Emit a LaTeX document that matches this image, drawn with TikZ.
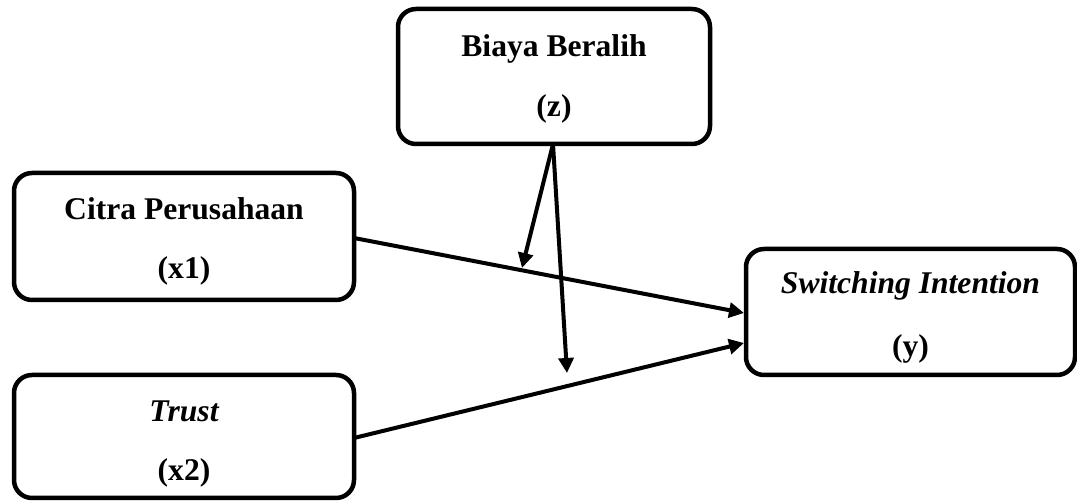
\documentclass[tikz,border=0pt]{standalone}
\usepackage{fontspec}
\setmainfont{Liberation Serif}
\usetikzlibrary{arrows.meta,calc}
\begin{document}
\begin{tikzpicture}[x=1pt,y=-1pt,
  boxnode/.style={draw=black, line width=4.5pt, rounded corners=18pt, inner sep=0pt, fill=white},
  lbl/.style={anchor=base, inner sep=0pt, font=\fontsize{31.6}{38}\selectfont\bfseries},
  ilbl/.style={lbl, font=\fontsize{31.6}{38}\selectfont\bfseries\itshape},
  arr/.style={line width=4pt, -{Triangle[length=15pt,width=15pt]}}]
\useasboundingbox (0,0) rectangle (1077,502);
% boxes
\node[boxnode, minimum width=312pt, minimum height=135pt] (z) at (554,76.5) {};
\node[boxnode, minimum width=340pt, minimum height=127pt] (x1) at (184,236.5) {};
\node[boxnode, minimum width=340pt, minimum height=123pt] (x2) at (184,436.5) {};
\node[boxnode, minimum width=329pt, minimum height=126pt] (y) at (910.5,312) {};
% labels
\node[lbl] (zt) at (554,57) {Biaya Beralih};
\node[lbl] (zb) at (554,117) {(z)};
\node[lbl] (x1t) at (184,220) {Citra Perusahaan};
\node[lbl] (x1b) at (184,279) {(x1)};
\node[ilbl] (x2t) at (184,422) {Trust};
\node[lbl] (x2b) at (184,481) {(x2)};
\node[ilbl] (yt) at (910.5,294) {Switching Intention};
\node[lbl] (yb) at (910.5,357) {(y)};
% coordinates
\coordinate (zs) at (553,144);
\coordinate (m1) at (522,268);
\coordinate (m2) at (567,373);
\coordinate (x1s) at (354,238);
\coordinate (x2s) at (354,438);
\coordinate (ye1) at (744,313);
\coordinate (ye2) at (744,343);
% connectors
\draw[arr] (x1s) -- (ye1);
\draw[arr] (x2s) -- (ye2);
\draw[arr] (zs) -- (m1);
\draw[arr] (zs) -- (m2);
\end{tikzpicture}
\end{document}
